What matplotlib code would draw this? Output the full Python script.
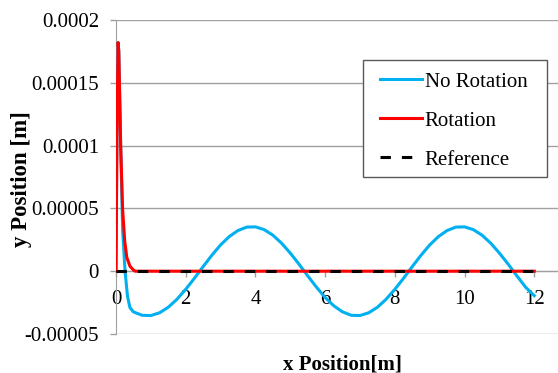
import matplotlib
matplotlib.use("Agg")
import matplotlib.pyplot as plt
from matplotlib.patches import Rectangle

plt.rcParams["font.family"] = ["Liberation Serif", "DejaVu Serif"]

# ================= data =================
x_no_rot = [0.0, 0.03, 0.06, 0.08, 0.105, 0.135, 0.19, 0.26, 0.33, 0.40, 0.50,
            0.75, 1.00, 1.25, 1.50, 1.75, 2.00, 2.25, 2.50, 2.75, 3.00, 3.25,
            3.50, 3.75, 4.00, 4.25, 4.50, 4.75, 5.00, 5.25, 5.50, 5.75, 6.00,
            6.25, 6.50, 6.75, 7.00, 7.25, 7.50, 7.75, 8.00, 8.25, 8.50, 8.75,
            9.00, 9.25, 9.50, 9.75, 10.00, 10.25, 10.50, 10.75, 11.00, 11.25,
            11.50, 11.75, 12.00]
y_no_rot = [0.0, 1.2e-4, 1.82e-4, 1.75e-4, 1.4e-4, 9.9e-5, 3.3e-5, 0.0, -2.0e-5,
            -2.9e-5, -3.24e-5, -3.51e-5, -3.53e-5, -3.31e-5, -2.87e-5, -2.23e-5,
            -1.44e-5, -0.56e-5, 0.37e-5, 1.27e-5, 2.09e-5, 2.76e-5, 3.24e-5,
            3.51e-5, 3.53e-5, 3.31e-5, 2.87e-5, 2.23e-5, 1.44e-5, 0.56e-5,
            -0.37e-5, -1.27e-5, -2.09e-5, -2.76e-5, -3.24e-5, -3.51e-5,
            -3.53e-5, -3.31e-5, -2.87e-5, -2.23e-5, -1.44e-5, -0.56e-5, 0.37e-5,
            1.27e-5, 2.09e-5, 2.76e-5, 3.24e-5, 3.51e-5, 3.53e-5, 3.31e-5,
            2.87e-5, 2.23e-5, 1.44e-5, 0.56e-5, -0.37e-5, -1.27e-5, -1.95e-5]

x_rot = [0.0, 0.03, 0.06, 0.08, 0.105, 0.135, 0.19, 0.25, 0.31, 0.40, 0.50,
         0.55, 1.0, 12.0]
y_rot = [0.0, 1.2e-4, 1.82e-4, 1.75e-4, 1.4e-4, 9.9e-5, 4.9e-5, 2.4e-5, 1.1e-5,
         4e-6, 1e-6, 0.0, 0.0, 0.0]

x_ref = [0.0, 12.0]
y_ref = [0.0, 0.0]

series_labels = ["No Rotation", "Rotation", "Reference"]

xticks = [0, 2, 4, 6, 8, 10, 12]
xtick_labels = ["0", "2", "4", "6", "8", "10", "12"]
yticks = [-5e-5, 0.0, 5e-5, 1e-4, 1.5e-4, 2e-4]
ytick_labels = ["-0.00005", "0", "0.00005", "0.0001", "0.00015", "0.0002"]

# ================= figure =================
W, H = 558, 373
fig = plt.figure(figsize=(W / 100, H / 100), dpi=100)
ax = fig.add_axes([116 / W, (H - 334) / H, (W - 116) / W, 314 / H])

GRAY = "#A0A0A0"
FS = 15

ax.plot(x_no_rot, y_no_rot, color="#00B0F0", lw=2.2, label=series_labels[0],
        solid_joinstyle="round")
ax.plot(x_rot, y_rot, color="#FF0000", lw=2.2, label=series_labels[1],
        solid_joinstyle="round")
ax.plot(x_ref, y_ref, color="black", lw=2.2, dashes=(3.4, 3.6),
        label=series_labels[2])

ax.set_xlim(0, 12.68)
ax.set_ylim(-5e-5, 2e-4)

ax.set_xticks(xticks, labels=xtick_labels)
ax.set_yticks(yticks, labels=ytick_labels)

ax.yaxis.grid(True, color=GRAY, lw=1)
ax.set_axisbelow(True)

for s in ["top", "right"]:
    ax.spines[s].set_visible(False)
ax.spines["left"].set_color(GRAY)
ax.spines["bottom"].set_color(GRAY)
ax.spines["bottom"].set_position(("data", 0))
for s in ax.spines.values():
    s.set_zorder(1)

ax.tick_params(axis="both", colors=GRAY, labelcolor="black", labelsize=FS,
               length=4.3, width=1)
ax.tick_params(axis="y", pad=7.9)
ax.tick_params(axis="x", pad=9.5)

ax.set_xlabel("x Position[m]", fontsize=FS, fontweight="bold")
ax.xaxis.set_label_coords((342 - 116) / 441, -0.065)
ax.set_ylabel("y Position [m]", fontsize=16.5, fontweight="bold")
ax.yaxis.set_label_coords((32 - 116) / 441, 0.495)

# legend box (Excel style, square frame)
frame = Rectangle((363 / W, 1 - 177 / H), (547 - 363) / W, 117 / H,
                  transform=fig.transFigure, facecolor="white",
                  edgecolor="#595959", lw=1, zorder=4, clip_on=False)
ax.add_artist(frame)
leg = ax.legend(loc="upper left", bbox_to_anchor=(380 / W, 1 - 72 / H),
                bbox_transform=fig.transFigure, borderaxespad=0, borderpad=0,
                fontsize=FS, frameon=False, handlelength=2.0,
                handletextpad=0.15, labelspacing=0.93)
leg.set_zorder(5)

fig.savefig("out.png", dpi=100)
